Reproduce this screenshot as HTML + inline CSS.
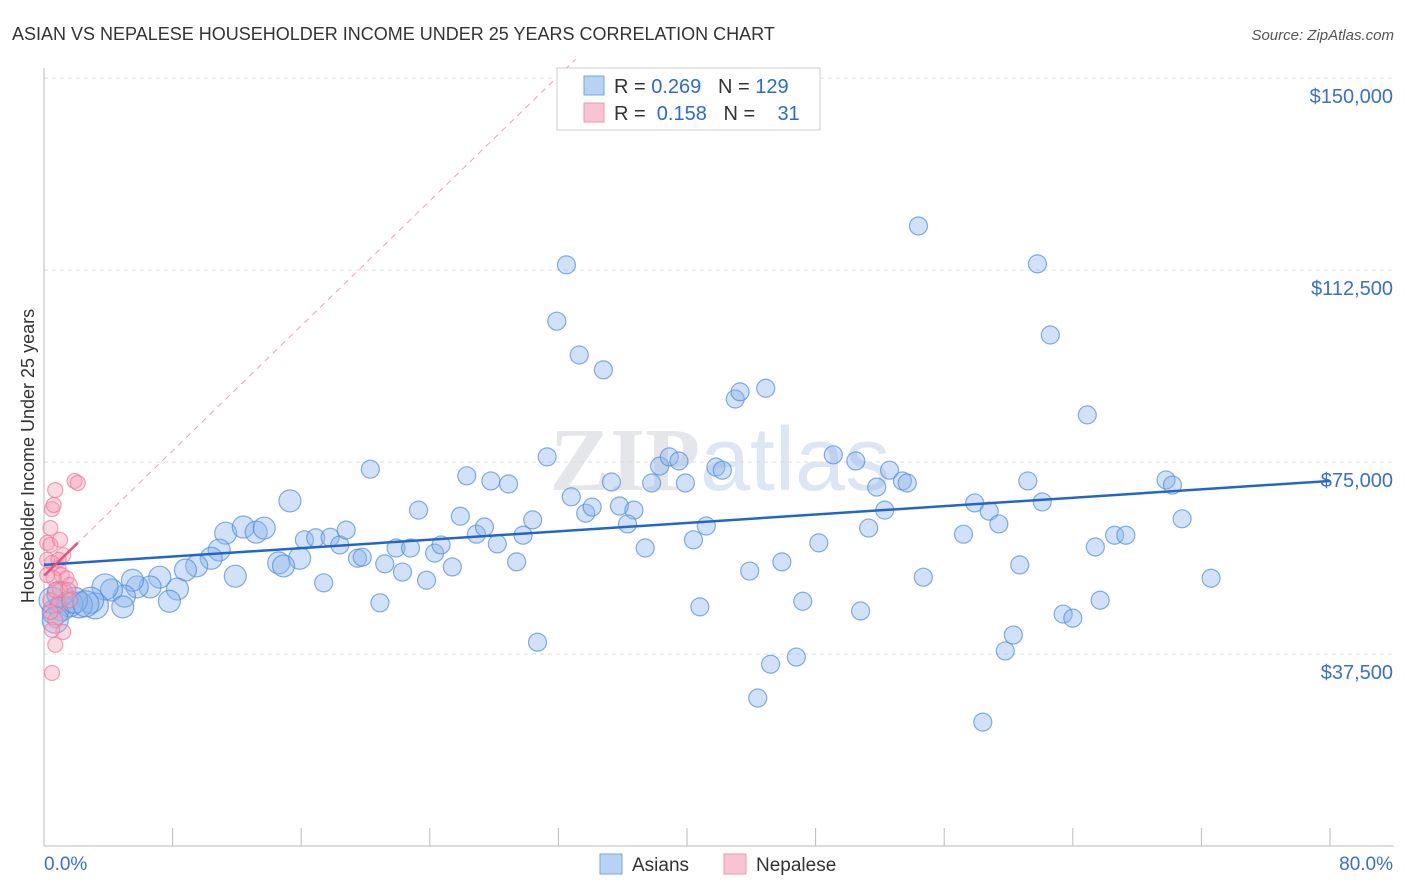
<!DOCTYPE html>
<html><head><meta charset="utf-8"><style>
body{margin:0;background:#fff;font-family:"Liberation Sans",sans-serif;}
#wrap{position:relative;width:1406px;height:892px;overflow:hidden}
</style></head><body><div id="wrap">
<svg id="svg" width="1406" height="892"></svg>
</div>
<script>
const asianX=[32.5,31.9,33.3,34.8,54.4,61.8,62.6,43.0,43.3,44.9,64.9,31.3,20.3,26.3,27.8,28.9,35.3,32.8,33.7,34.1,35.8,36.7,36.3,38.3,38.9,39.5,37.8,39.9,41.8,42.2,41.2,40.4,37.4,49.1,50.5,51.8,52.6,53.4,53.7,52.3,51.3,57.9,58.8,59.4,57.2,61.2,62.1,69.8,70.2,70.8,66.6,67.3,65.4,72.6,60.7,54.7,48.2,45.9,43.9,47.2,50.8,40.8,65.7,63.4,64.0,60.3,59.8,45.2,46.8,44.4,58.4,30.7,15.3,11.3,10.9,12.4,13.2,13.7,10.4,9.5,8.8,16.2,16.9,17.8,18.4,18.8,19.5,19.8,21.2,21.9,22.8,22.3,23.8,24.3,24.7,25.4,25.9,26.9,27.4,28.2,29.4,29.8,30.4,23.3,20.9,17.4,15.9,14.6,14.9,11.9,8.3,7.8,7.2,6.6,5.8,5.5,5.0,4.2,3.8,3.2,4.9,2.9,2.2,1.6,1.1,0.7,0.5,0.7,1.0,1.9,2.6];
const asianY=[113.5,102.5,95.9,93.0,121.1,113.7,99.8,87.3,88.7,89.4,84.2,76.0,73.6,72.3,71.3,70.7,71.1,68.2,65.0,66.2,66.4,65.6,62.9,74.2,76.0,75.2,70.9,70.9,74.0,73.4,62.5,59.8,58.2,76.4,75.2,70.1,73.4,71.3,70.9,65.6,62.1,67.0,65.4,62.9,60.9,71.3,67.2,71.5,70.5,63.9,60.7,60.7,58.4,52.3,54.9,52.5,59.2,55.5,53.7,47.8,45.9,46.7,48.0,45.3,44.5,41.2,38.1,35.5,36.9,28.9,24.2,39.8,67.4,61.1,57.8,62.3,61.3,62.1,56.2,54.7,53.9,59.8,60.2,60.3,58.8,61.7,56.2,56.4,55.1,58.2,58.2,53.5,51.9,57.2,58.8,54.5,64.4,60.9,62.3,59.0,55.5,60.7,63.7,65.6,47.5,51.4,56.2,55.3,54.7,52.7,50.2,47.8,52.5,50.6,50.6,51.9,48.8,50.0,50.6,46.9,46.7,48.0,47.1,47.3,46.5,45.7,48.0,44.1,49.2,48.0,47.3];
const nepX=[0.7,0.5,0.6,1.9,2.1,0.4,0.2,0.4,1.2,0.5,0.9,1.1,1.4,1.6,0.6,1.0,0.4,0.9,0.7,1.2,0.5,0.7,0.5,0.2,1.0,1.5,0.4,1.6,0.7,0.9,0.2];
const nepY=[69.5,65.8,66.6,71.3,70.9,62.1,59.2,58.8,56.8,55.3,54.3,52.9,52.3,51.0,52.3,50.0,48.0,47.1,44.1,41.8,42.2,39.3,33.8,55.9,59.8,50.0,45.7,48.0,50.0,55.9,52.9];
const yTicks=[37.5,75,112.5,150];
const yTickLabels=["$37,500","$75,000","$112,500","$150,000"];
const asianTrend=[54.9,71.3]; // y at 0% and 80%
const nepTrend=[52.8,3.05];   // intercept, slope per %

const svg=document.getElementById('svg');const NS='http://www.w3.org/2000/svg';
function X(v){return 44+v/80*1286;}
function Y(v){return 846-v/37.5*192;}
function el(t,a,p){const e=document.createElementNS(NS,t);for(const k in a)e.setAttribute(k,a[k]);(p||svg).appendChild(e);return e;}
function txt(x,y,s,a){const e=el('text',Object.assign({x:x,y:y},a));e.textContent=s;return e;}

let t=txt(12,40,"ASIAN VS NEPALESE HOUSEHOLDER INCOME UNDER 25 YEARS CORRELATION CHART",{'font-size':18,fill:'#333'});

t=txt(1394,40,"Source: ZipAtlas.com",{'font-size':15,fill:'#555','text-anchor':'end','font-style':'italic'});

t=el('text',{x:720,y:490,'font-size':90,'text-anchor':'middle'});
t.innerHTML='<tspan fill="#e4e6ea" font-family="Liberation Serif" font-weight="bold">ZIP</tspan><tspan fill="#dde7f4" font-family="Liberation Sans">atlas</tspan>';


yTicks.forEach((v,i)=>{
 const g=el('line',{x1:44,x2:1394,y1:Y(v),y2:Y(v),stroke:'#ddd','stroke-dasharray':'4,4'});
 
 const l=txt(1393,Y(v)+25,yTickLabels[i],{'font-size':20,fill:'#3a6fd0','text-anchor':'end'});
 
});
let a=el('line',{x1:44,x2:44,y1:68,y2:846,stroke:'#bbb'});
a=el('line',{x1:44,x2:1394,y1:846,y2:846,stroke:'#bbb'});
for(let i=0;i<=10;i++){const k=el('line',{x1:X(i*8),x2:X(i*8),y1:828,y2:846,stroke:'#bbb'});}
t=txt(44,870,"0.0%",{'font-size':19,fill:'#3a6fd0'});
t=txt(1393,870,"80.0%",{'font-size':19,fill:'#3a6fd0','text-anchor':'end'});
t=txt(0,0,"Householder Income Under 25 years",{'font-size':18,fill:'#333','text-anchor':'middle',transform:'translate(34,456) rotate(-90)'});


const xEnd=(150-nepTrend[0])/nepTrend[1]+1.2;
let d=el('line',{x1:X(0),y1:Y(nepTrend[0]),x2:X(xEnd),y2:Y(nepTrend[0]+nepTrend[1]*xEnd),stroke:'#f0a0b6','stroke-dasharray':'6,5','stroke-width':1});


asianX.forEach((v,i)=>{
 const r=v<4?13:(v<16?11:9);
 const c=el('circle',{cx:X(v),cy:Y(asianY[i]),r:r,fill:'rgba(140,180,235,0.4)',stroke:'rgba(80,140,220,0.7)','stroke-width':1.2});
 
});
nepX.forEach((v,i)=>{
 const c=el('circle',{cx:X(v),cy:Y(nepY[i]),r:7.5,fill:'rgba(245,160,185,0.4)',stroke:'rgba(235,120,155,0.7)','stroke-width':1.2});
 
});
let tl=el('line',{x1:X(0),y1:Y(asianTrend[0]),x2:X(80),y2:Y(asianTrend[1]),stroke:'#2266cc','stroke-width':2.5});

tl=el('line',{x1:X(0),y1:Y(nepTrend[0]),x2:X(2.1),y2:Y(nepTrend[0]+nepTrend[1]*2.1),stroke:'#e8507a','stroke-width':2.5});


let lg=el('rect',{x:557,y:68,width:263,height:62,fill:'#fff',stroke:'#ccc'});
let s=el('rect',{x:584,y:76,width:20,height:19,fill:'#b8d2f5',stroke:'#7aa5e0'});
s=el('rect',{x:584,y:103,width:20,height:19,fill:'#f8c4d3',stroke:'#ec98b1'});
function rt(x,y,s1,nm){const e=el('text',{x:x,y:y,'font-size':20,fill:'#333'});e.innerHTML=s1;return e;}
rt(614,93,'R = <tspan fill="#2a6bd0">0.269</tspan>&#160;&#160;&#160;N = <tspan fill="#2a6bd0">129</tspan>','asian-stats');
rt(614,120,'R =&#160;&#160;<tspan fill="#2a6bd0">0.158</tspan>&#160;&#160;&#160;N =&#160;&#160;&#160;&#160;<tspan fill="#2a6bd0">31</tspan>','nepalese-stats');

s=el('rect',{x:600,y:854,width:22,height:20,fill:'#b8d2f5',stroke:'#7aa5e0'});
t=txt(632,871,"Asians",{'font-size':19,fill:'#333'});
s=el('rect',{x:724,y:854,width:22,height:20,fill:'#f8c4d3',stroke:'#ec98b1'});
t=txt(756,871,"Nepalese",{'font-size':19,fill:'#333'});
</script></body></html>
